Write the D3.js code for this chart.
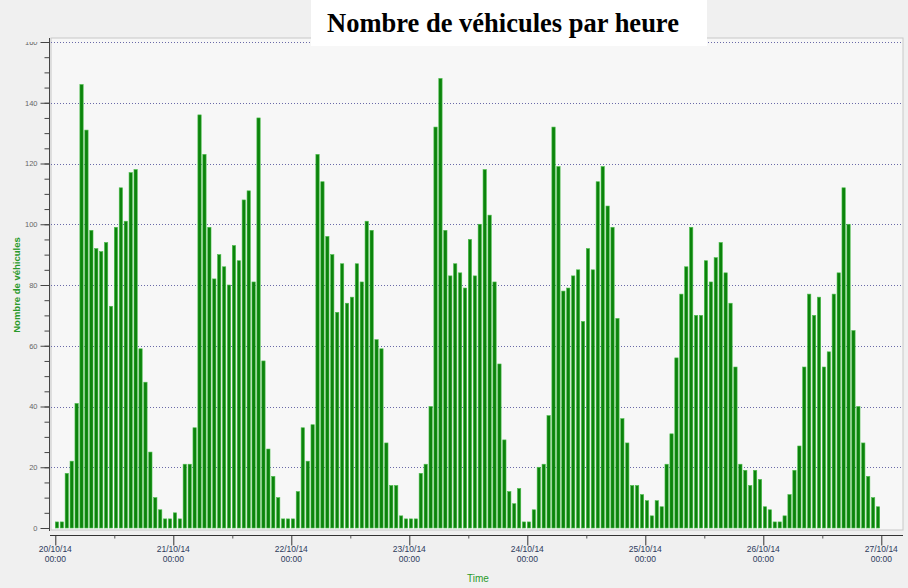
<!DOCTYPE html>
<html lang="fr">
<head>
  <meta charset="UTF-8" />
  <title>Nombre de véhicules par heure</title>
  <script src="https://cdn.jsdelivr.net/npm/d3@7"></script>
  <style>
    html, body { margin: 0; padding: 0; background: #f0f0f0; }
    svg { display: block; }
  </style>
</head>
<body>
  <svg id="chart" width="908" height="588"></svg>
  <script>
    // Hourly counts, one array per day (00:00 .. 23:00)
    var dayStarts = ["2014-10-20", "2014-10-21", "2014-10-22", "2014-10-23",
                     "2014-10-24", "2014-10-25", "2014-10-26", "2014-10-27"];
    var day1 = [2,2,18,22,41,146,131,98,92,91,94,73,99,112,101,117,118,59,48,25,10,6,3,3];
    var day2 = [5,3,21,21,33,136,123,99,82,90,86,80,93,88,108,111,81,135,55,26,17,10,3,3];
    var day3 = [3,12,33,22,34,123,114,96,90,71,87,74,76,87,81,101,98,62,59,28,14,14,4,3];
    var day4 = [3,3,18,21,40,132,148,98,83,87,84,79,95,83,100,118,103,81,54,29,12,8,13,2];
    var day5 = [2,6,20,21,37,132,119,78,79,83,85,68,92,85,114,119,106,99,69,36,28,14,14,11];
    var day6 = [9,4,9,7,21,31,56,77,86,99,70,70,88,81,89,94,84,74,53,21,19,14,19,16];
    var day7 = [7,6,2,2,4,11,19,27,53,77,70,76,53,58,77,84,112,100,65,40,28,17,10,7];
    var yTicks = [0, 20, 40, 60, 80, 100, 120, 140, 160];

    var parseDay = d3.timeParse("%Y-%m-%d");
    var days = [day1, day2, day3, day4, day5, day6, day7];
    var data = [];
    days.forEach(function(vals, d) {
      vals.forEach(function(v, h) {
        data.push({ time: d3.timeHour.offset(parseDay(dayStarts[d]), h), value: v });
      });
    });

    var svg = d3.select("#chart");
    var plot = { left: 51, right: 903, top: 38, bottom: 530 };

    var x = d3.scaleTime()
      .domain([parseDay(dayStarts[0]), parseDay(dayStarts[7])])
      .range([55.3, 881.3]);
    var y = d3.scaleLinear().domain([0, 160]).range([528, 42]);

    // plot background
    svg.append("rect")
      .attr("x", plot.left).attr("y", plot.top)
      .attr("width", plot.right - plot.left).attr("height", plot.bottom - plot.top)
      .attr("fill", "#f7f7f7")
      .attr("stroke", "#c8c8c8").attr("stroke-width", 1);

    // dotted gridlines
    svg.append("g").selectAll("line")
      .data(yTicks.filter(function(t) { return t > 0; }))
      .join("line")
      .attr("x1", plot.left).attr("x2", plot.right)
      .attr("y1", function(d) { return Math.round(y(d)) + 0.5; })
      .attr("y2", function(d) { return Math.round(y(d)) + 0.5; })
      .attr("stroke", "#6a6aa8")
      .attr("stroke-width", 1)
      .attr("stroke-dasharray", "1,2");

    // bars
    var barW = 3.3;
    svg.append("g").selectAll("rect")
      .data(data)
      .join("rect")
      .attr("x", function(d) { return x(d.time); })
      .attr("y", function(d) { return y(d.value); })
      .attr("width", barW)
      .attr("height", function(d) { return y(0) - y(d.value); })
      .attr("fill", "#0c830c")
      .attr("stroke", "#4cbf4c")
      .attr("stroke-width", 0.6);

    // y axis: minor ticks every 5, major every 20
    svg.append("defs").append("clipPath").attr("id", "labelclip")
      .append("rect").attr("x", -60).attr("y", 42).attr("width", 60).attr("height", 520);

    var yMinor = svg.append("g")
      .attr("transform", "translate(49.5,0)")
      .call(d3.axisLeft(y).tickValues(d3.range(0, 161, 5)).tickSize(5).tickFormat(""));
    yMinor.select(".domain").attr("d", "M0," + plot.top + "V" + (plot.bottom + 1)).attr("stroke", "#444");
    yMinor.selectAll(".tick line").attr("stroke", "#444");

    var yMajor = svg.append("g")
      .attr("transform", "translate(49.5,0)")
      .call(d3.axisLeft(y).tickValues(yTicks).tickSize(9).tickFormat(""));
    yMajor.select(".domain").remove();
    yMajor.selectAll(".tick line").attr("stroke", "#444");

    // labels in a clipped group so the 160 label is cut at the top, as in the original
    var yLabels = svg.append("g")
      .attr("transform", "translate(49.5,0)")
      .attr("clip-path", "url(#labelclip)")
      .call(d3.axisLeft(y).tickValues(yTicks).tickSize(9).tickPadding(3));
    yLabels.select(".domain").remove();
    yLabels.selectAll(".tick line").remove();
    yLabels.selectAll(".tick text")
      .attr("fill", "#666")
      .attr("font-family", "Liberation Sans, Arial, sans-serif")
      .attr("font-size", 7.5);

    // x axis
    var xAxisG = svg.append("g")
      .attr("transform", "translate(0,535.5)")
      .call(d3.axisBottom(x).ticks(d3.timeDay.every(1)).tickSize(10).tickFormat(""));
    xAxisG.select(".domain").attr("d", "M50,0H" + plot.right).attr("stroke", "#333");
    xAxisG.selectAll(".tick line").attr("stroke", "#333");
    svg.append("g")
      .attr("transform", "translate(0,535.5)")
      .call(d3.axisBottom(x)
        .tickValues(d3.range(7).map(function(i) { return d3.timeHour.offset(parseDay(dayStarts[i]), 12); }))
        .tickSize(3).tickFormat(""))
      .call(function(g) {
        g.select(".domain").remove();
        g.selectAll(".tick line").attr("stroke", "#555");
      });

    var fmtDate = d3.timeFormat("%d/%m/%y");
    var fmtTime = d3.timeFormat("%H:%M");
    var xLabels = svg.append("g")
      .attr("font-family", "Liberation Sans, Arial, sans-serif")
      .attr("font-size", 8.5)
      .attr("fill", "#2e3a5c")
      .attr("text-anchor", "middle");
    xLabels.selectAll("text.d")
      .data(dayStarts.map(parseDay))
      .join("text")
      .attr("class", "d")
      .attr("x", function(d) { return x(d); })
      .attr("y", 552)
      .text(fmtDate);
    xLabels.selectAll("text.t")
      .data(dayStarts.map(parseDay))
      .join("text")
      .attr("class", "t")
      .attr("x", function(d) { return x(d); })
      .attr("y", 562)
      .text(fmtTime);

    // axis titles
    svg.append("text")
      .attr("x", 478).attr("y", 582)
      .attr("text-anchor", "middle")
      .attr("font-family", "Liberation Sans, Arial, sans-serif")
      .attr("font-size", 10)
      .attr("fill", "#2a9a2a")
      .text("Time");

    svg.append("text")
      .attr("transform", "translate(20,285) rotate(-90)")
      .attr("text-anchor", "middle")
      .attr("font-family", "Liberation Sans, Arial, sans-serif")
      .attr("font-size", 9.5)
      .attr("font-weight", "bold")
      .attr("fill", "#2a9a2a")
      .text("Nombre de véhicules");

    // title box
    svg.append("rect")
      .attr("x", 311).attr("y", 0)
      .attr("width", 396).attr("height", 46)
      .attr("fill", "#ffffff");
    svg.append("text")
      .attr("x", 503).attr("y", 32)
      .attr("text-anchor", "middle")
      .attr("font-family", "Liberation Serif, Times New Roman, serif")
      .attr("font-weight", "bold")
      .attr("font-size", 26.5)
      .attr("fill", "#000")
      .text("Nombre de véhicules par heure");
  </script>
</body>
</html>
